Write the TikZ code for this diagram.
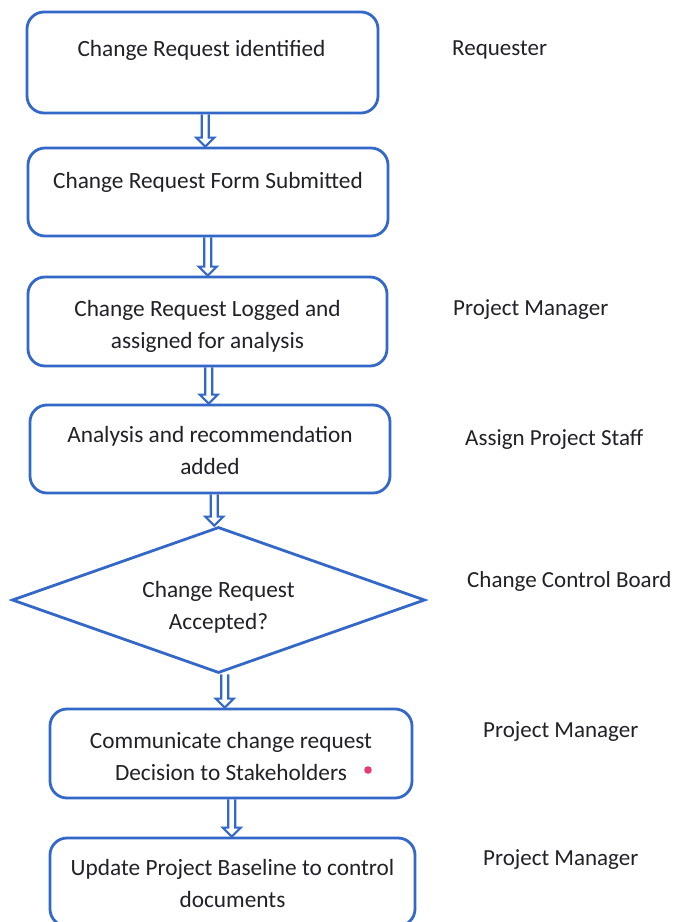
\documentclass[tikz,border=0pt]{standalone}
\usepackage{fontspec}
\setmainfont{Carlito}
\usetikzlibrary{shapes.geometric,calc}
\definecolor{flowblue}{RGB}{52,104,200}
\definecolor{inkdark}{RGB}{35,32,40}
\definecolor{speck}{RGB}{232,60,120}
\tikzset{
  box/.style={draw=flowblue, line width=2.8pt, rounded corners=17pt, fill=white, inner sep=0pt},
  decision/.style={draw=flowblue, line width=2.8pt, diamond, inner sep=0pt, fill=white},
  txt/.style={align=center, text=inkdark, inner sep=0pt, font=\fontsize{23.3}{32}\selectfont},
  role/.style={anchor=base west, text=inkdark, font=\fontsize{23}{28}\selectfont, inner sep=0pt},
  blockarr/.style={draw=flowblue, line width=2.2pt, line join=miter}
}
\newcommand\blkarrow[2]{%
  \draw[blockarr] let \p1=(#1.south), \p2=(#2.north), \n1={(\x1+\x2)/2} in
    (\n1-3.5pt,\y1) -- (\n1-3.5pt,\y2+9pt) -- (\n1-9pt,\y2+9pt) -- (\n1,\y2)
    -- (\n1+9pt,\y2+9pt) -- (\n1+3.5pt,\y2+9pt) -- (\n1+3.5pt,\y1);}
\begin{document}
\begin{tikzpicture}[x=1pt,y=-1pt]
\useasboundingbox[fill=white] (0,0) rectangle (673,922);
\node[box, minimum width=351pt, minimum height=101pt] (b1) at (202.5,62.5) {};
\node[box, minimum width=360pt, minimum height=88pt] (b2) at (208,192) {};
\node[box, minimum width=359pt, minimum height=89pt] (b3) at (207.5,321.5) {};
\node[box, minimum width=360pt, minimum height=88pt] (b4) at (210,449) {};
\node[decision, minimum width=413pt, minimum height=146pt] (dec) at (218.5,600) {};
\node[box, minimum width=362pt, minimum height=89pt] (b6) at (231,753.5) {};
\node[box, minimum width=365pt, minimum height=88pt] (b7) at (232.5,882) {};

\node[txt] (t1) at ([xshift=-1pt,yshift=-7pt]b1.center) {Change Request identified\\\strut};
\node[txt] (t2) at ([yshift=-9pt]b2.center) {Change Request Form Submitted\\\strut};
\node[txt] (t3) at ([yshift=-5pt]b3.center) {Change Request Logged and\\assigned for analysis};
\node[txt] (t4) at ([yshift=-1pt]b4.center) {Analysis and recommendation\\added};
\node[txt] (t5) at ([yshift=-7pt]dec.center) {Change Request\\Accepted?};
\node[txt] (t6) at ([yshift=-3pt]b6.center) {Communicate change request\\Decision to Stakeholders};
\node[txt] (t7) at ([yshift=-1pt]b7.center) {Update Project Baseline to control\\documents};

\blkarrow{b1}{b2}
\blkarrow{b2}{b3}
\blkarrow{b3}{b4}
\blkarrow{b4}{dec}
\blkarrow{dec}{b6}
\blkarrow{b6}{b7}

\node[role] (r1) at (452,55) {Requester};
\node[role] (r2) at (453,315) {Project Manager};
\node[role] (r3) at (465,445) {Assign Project Staff};
\node[role] (r4) at (467,587) {Change Control Board};
\node[role] (r5) at (483,737) {Project Manager};
\node[role] (r6) at (483,865) {Project Manager};

\fill[speck] (368,770) circle (3.8pt);
\end{tikzpicture}
\end{document}
